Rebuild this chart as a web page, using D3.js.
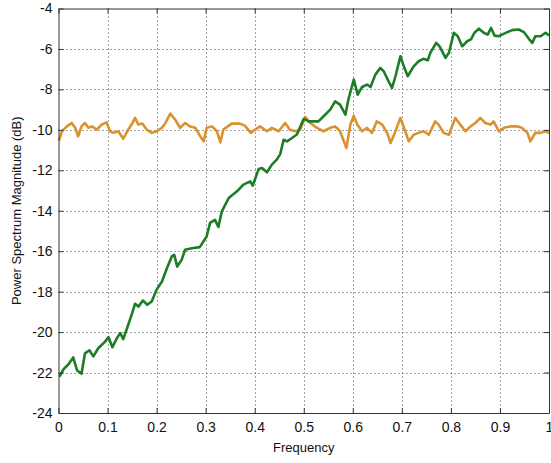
<!DOCTYPE html>
<html>
<head>
<meta charset="utf-8">
<script src="https://cdn.jsdelivr.net/npm/d3@7"></script>
<style>
  html, body { margin: 0; padding: 0; background: #fff; }
  svg { display: block; font-family: "Liberation Sans", Arial, sans-serif; }
</style>
</head>
<body>
<div id="chart"></div>
<script>
// tick values
const xTicks = [0, 0.1, 0.2, 0.3, 0.4, 0.5, 0.6, 0.7, 0.8, 0.9, 1];
const xTickLabels = ['0', '0.1', '0.2', '0.3', '0.4', '0.5', '0.6', '0.7', '0.8', '0.9', '1'];
const yTicks = [-24, -22, -20, -18, -16, -14, -12, -10, -8, -6, -4];
const yTickLabels = ['-24', '-22', '-20', '-18', '-16', '-14', '-12', '-10', '-8', '-6', '-4'];

// green series
const greenFreq = [0.002, 0.010, 0.020, 0.030, 0.038, 0.047, 0.054, 0.063, 0.071, 0.081,
  0.095, 0.102, 0.110, 0.119, 0.126, 0.132, 0.142, 0.149, 0.156, 0.163,
  0.172, 0.181, 0.190, 0.200, 0.211, 0.221, 0.231, 0.236, 0.242, 0.251,
  0.258, 0.272, 0.288, 0.302, 0.309, 0.319, 0.326, 0.333, 0.347, 0.364,
  0.377, 0.391, 0.396, 0.408, 0.415, 0.425, 0.435, 0.445, 0.452, 0.459,
  0.466, 0.476, 0.486, 0.500, 0.510, 0.530, 0.540, 0.554, 0.564, 0.574,
  0.585, 0.591, 0.602, 0.610, 0.619, 0.629, 0.636, 0.646, 0.656, 0.663,
  0.673, 0.680, 0.687, 0.697, 0.704, 0.712, 0.724, 0.734, 0.744, 0.753,
  0.758, 0.770, 0.777, 0.789, 0.796, 0.806, 0.814, 0.823, 0.833, 0.841,
  0.848, 0.857, 0.867, 0.875, 0.882, 0.889, 0.898, 0.904, 0.915, 0.925,
  0.938, 0.949, 0.959, 0.966, 0.972, 0.983, 0.993, 1.000];
const greenDb = [-22.2, -21.84, -21.6, -21.25, -21.9, -22.05, -21.05, -20.9, -21.2, -20.8,
  -20.47, -20.25, -20.75, -20.3, -20.05, -20.35, -19.65, -19.15, -18.6, -18.74,
  -18.44, -18.65, -18.49, -17.9, -17.5, -16.84, -16.26, -16.18, -16.76, -16.43,
  -15.93, -15.85, -15.8, -15.27, -14.6, -14.45, -14.8, -14.03, -13.37, -13.04,
  -12.71, -12.55, -12.76, -11.94, -11.89, -12.1, -11.72, -11.47, -11.2, -10.49,
  -10.57, -10.4, -10.23, -9.45, -9.58, -9.58, -9.34, -9.0, -8.59, -8.75,
  -9.25, -8.5, -7.51, -8.26, -7.88, -7.76, -7.88, -7.27, -6.94, -7.1,
  -7.6, -7.93, -7.35, -6.36, -6.86, -7.35, -6.86, -6.61, -6.49, -6.56,
  -6.19, -5.7, -5.87, -6.44, -6.19, -5.2, -5.37, -5.87, -5.62, -5.53,
  -5.2, -5.0, -5.2, -5.29, -4.96, -5.34, -5.37, -5.29, -5.17, -5.07,
  -5.04, -5.17, -5.5, -5.7, -5.37, -5.37, -5.2, -5.34];

// orange series
const orangeFreq = [0.001, 0.007, 0.017, 0.027, 0.034, 0.040, 0.047, 0.054, 0.061, 0.068,
  0.078, 0.088, 0.098, 0.105, 0.112, 0.122, 0.132, 0.142, 0.149, 0.156,
  0.163, 0.171, 0.180, 0.190, 0.200, 0.211, 0.218, 0.228, 0.238, 0.248,
  0.258, 0.268, 0.279, 0.289, 0.296, 0.302, 0.313, 0.323, 0.330, 0.336,
  0.353, 0.370, 0.380, 0.392, 0.401, 0.411, 0.425, 0.435, 0.449, 0.462,
  0.472, 0.483, 0.493, 0.503, 0.513, 0.527, 0.540, 0.554, 0.564, 0.574,
  0.587, 0.595, 0.602, 0.609, 0.619, 0.629, 0.639, 0.649, 0.660, 0.670,
  0.677, 0.687, 0.697, 0.707, 0.714, 0.724, 0.734, 0.744, 0.755, 0.768,
  0.775, 0.785, 0.796, 0.809, 0.819, 0.830, 0.840, 0.850, 0.860, 0.870,
  0.881, 0.887, 0.898, 0.908, 0.921, 0.935, 0.945, 0.956, 0.962, 0.972,
  0.983, 0.993, 1.000];
const orangeDb = [-10.53, -10.07, -9.83, -9.66, -9.9, -10.32, -9.83, -9.66, -9.9, -9.83,
  -9.99, -9.74, -9.63, -10.07, -10.15, -10.07, -10.44, -9.99, -9.74, -9.41,
  -9.74, -9.69, -9.99, -10.15, -10.07, -9.9, -9.66, -9.2, -9.5, -9.9,
  -9.66, -9.83, -9.9, -10.32, -10.57, -9.9, -9.83, -10.07, -10.62, -9.99,
  -9.69, -9.69, -9.79, -10.15, -9.99, -9.83, -10.07, -9.9, -10.07, -9.66,
  -9.99, -10.07, -9.99, -9.36, -9.66, -9.9, -10.07, -9.9, -9.83, -10.07,
  -10.9, -9.74, -9.3, -9.74, -10.07, -9.9, -10.15, -9.58, -9.74, -10.15,
  -10.65, -10.07, -9.41, -10.07, -10.57, -10.24, -10.15, -10.07, -10.24, -9.58,
  -9.74, -10.15, -10.24, -9.41, -9.74, -10.07, -9.83, -9.66, -9.41, -9.66,
  -9.74, -9.58, -10.07, -9.9, -9.83, -9.83, -9.9, -10.15, -10.57, -10.15,
  -10.15, -10.07, -10.15];

const W = 551, H = 463;
const margin = {top: 8.5, right: 2, bottom: 50, left: 58.5};

const svg = d3.select('#chart').append('svg')
    .attr('width', W)
    .attr('height', H);

const x = d3.scaleLinear().domain([0, 1]).range([margin.left, W - margin.right]);
const y = d3.scaleLinear().domain([-24, -4]).range([H - margin.bottom, margin.top]);

// dotted grid
const grid = svg.append('g')
    .attr('stroke', '#444')
    .attr('stroke-width', 1)
    .attr('stroke-dasharray', '1,3');
grid.selectAll('.gx')
    .data(xTicks.slice(1, -1))
    .join('line')
    .attr('x1', d => Math.round(x(d)) + 0.5)
    .attr('x2', d => Math.round(x(d)) + 0.5)
    .attr('y1', y(-4))
    .attr('y2', y(-24));
grid.selectAll('.gy')
    .data(yTicks.slice(1, -1))
    .join('line')
    .attr('x1', x(0))
    .attr('x2', x(1))
    .attr('y1', d => Math.round(y(d)) + 0.5)
    .attr('y2', d => Math.round(y(d)) + 0.5);

// lines
const line = d3.line()
    .x(d => x(d[0]))
    .y(d => y(d[1]));

const orangeData = orangeFreq.map((f, i) => [f, orangeDb[i]]);
const greenData = greenFreq.map((f, i) => [f, greenDb[i]]);

svg.append('path')
    .datum(orangeData)
    .attr('fill', 'none')
    .attr('stroke', '#d9922e')
    .attr('stroke-width', 2.6)
    .attr('stroke-linejoin', 'round')
    .attr('d', line);

svg.append('path')
    .datum(greenData)
    .attr('fill', 'none')
    .attr('stroke', '#1d7d26')
    .attr('stroke-width', 2.6)
    .attr('stroke-linejoin', 'round')
    .attr('d', line);

// axes
const fmtX = d => xTickLabels[xTicks.indexOf(d)];
const fmtY = d => yTickLabels[yTicks.indexOf(d)];

const axisColor = '#333';

const gBottom = svg.append('g')
    .attr('transform', `translate(0,${y(-24)})`)
    .call(d3.axisBottom(x).tickValues(xTicks).tickFormat(fmtX).tickSizeInner(-5).tickSizeOuter(0).tickPadding(9));
const gLeft = svg.append('g')
    .attr('transform', `translate(${x(0)},0)`)
    .call(d3.axisLeft(y).tickValues(yTicks).tickFormat(fmtY).tickSizeInner(-5).tickSizeOuter(0).tickPadding(6));
const gTop = svg.append('g')
    .attr('transform', `translate(0,${y(-4)})`)
    .call(d3.axisTop(x).tickValues(xTicks).tickFormat('').tickSizeInner(-5).tickSizeOuter(0));
const gRight = svg.append('g')
    .attr('transform', `translate(${x(1)},0)`)
    .call(d3.axisRight(y).tickValues(yTicks).tickFormat('').tickSizeInner(-5).tickSizeOuter(0));

[gBottom, gLeft, gTop, gRight].forEach(g => {
  g.selectAll('path, line').attr('stroke', axisColor);
  g.selectAll('text')
      .attr('fill', '#111')
      .style('font-size', '14px')
      .style('font-family', '"Liberation Sans", Arial, sans-serif');
});

// axis titles
svg.append('text')
    .attr('x', (x(0) + x(1)) / 2)
    .attr('y', 452)
    .attr('text-anchor', 'middle')
    .attr('fill', '#111')
    .style('font-size', '13px')
    .text('Frequency');

svg.append('text')
    .attr('transform', `translate(21,${(y(-4) + y(-24)) / 2}) rotate(-90)`)
    .attr('text-anchor', 'middle')
    .attr('fill', '#111')
    .style('font-size', '13px')
    .text('Power Spectrum Magnitude (dB)');
</script>
</body>
</html>
